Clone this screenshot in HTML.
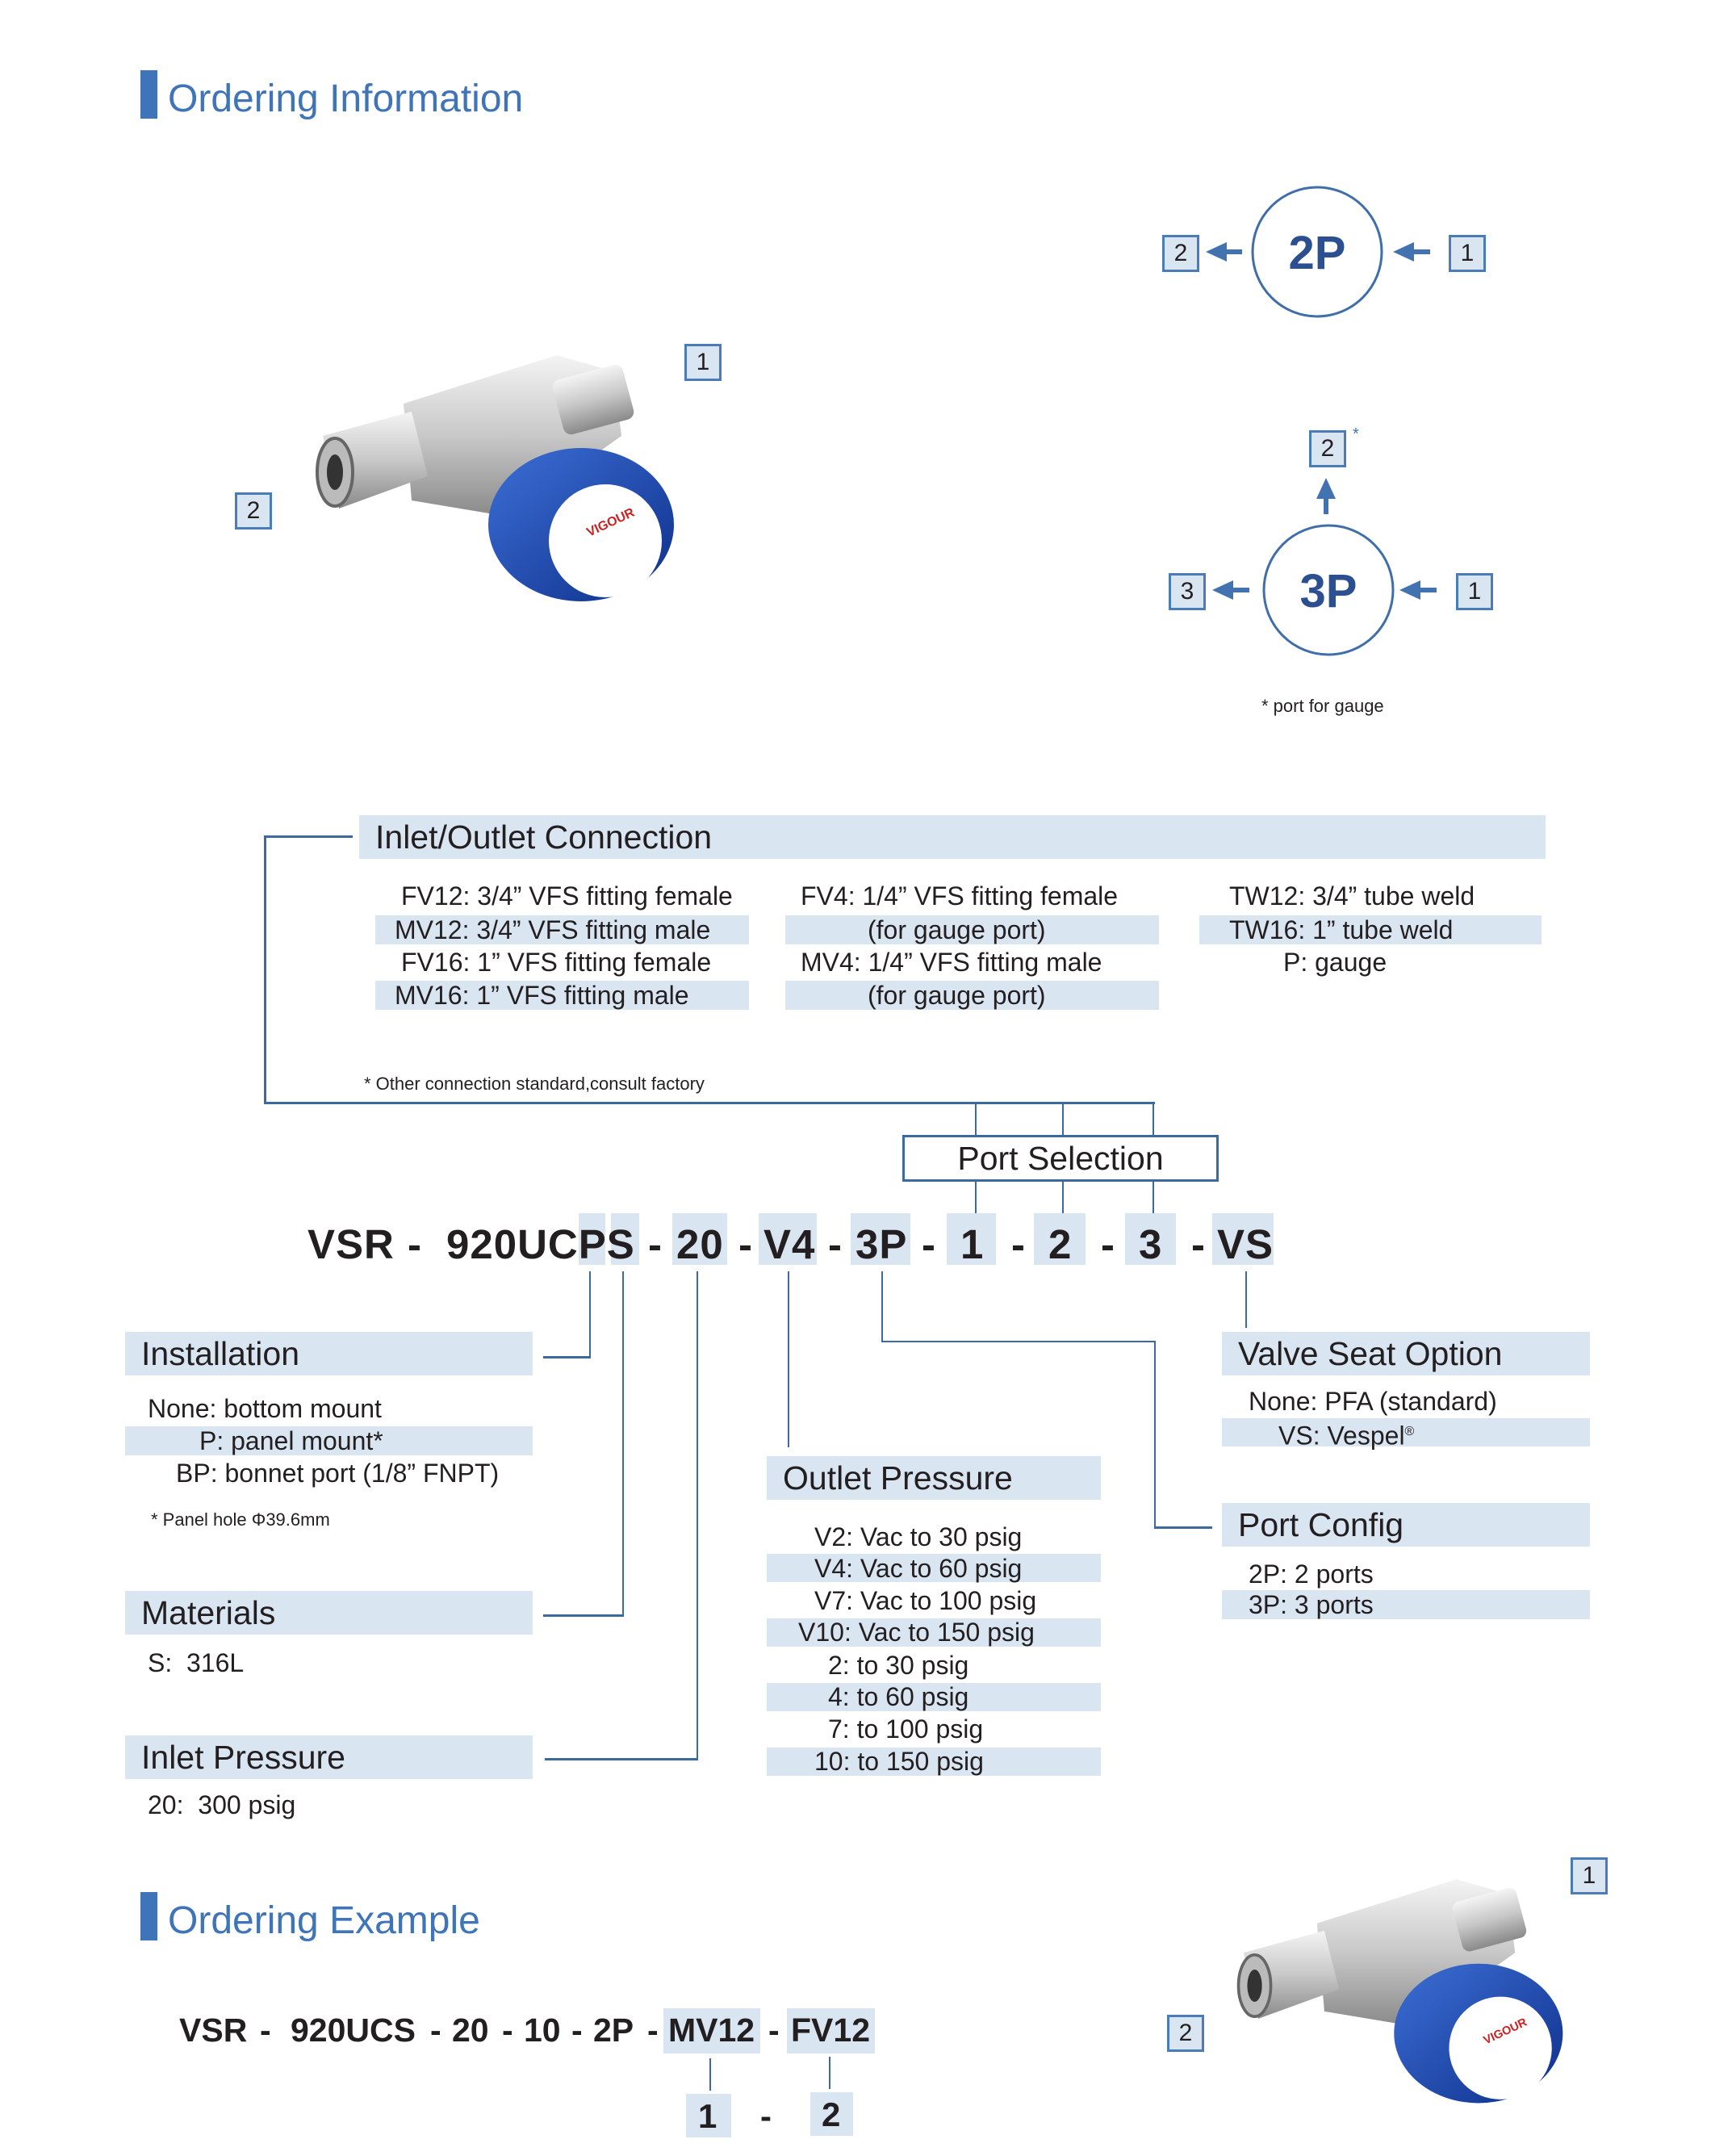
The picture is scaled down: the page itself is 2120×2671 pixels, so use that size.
<!DOCTYPE html>
<html><head><meta charset="utf-8"><style>
body{margin:0;background:#fff;}
#p{position:relative;width:2120px;height:2671px;overflow:hidden;font-family:"Liberation Sans",Arial,sans-serif;color:#231f20;}
.a{position:absolute;white-space:nowrap;}
.bar{position:absolute;background:#dae5f2;}
.hd{position:absolute;background:#dae5f2;font-size:41px;line-height:54px;padding-left:20px;box-sizing:border-box;color:#231f20;}
.it{position:absolute;font-size:32px;line-height:36px;white-space:nowrap;}
.ln{position:absolute;background:#3b6aa0;}
.bx{position:absolute;border:3px solid #4a7db8;background:#dae5f2;box-sizing:border-box;font-size:30px;text-align:center;color:#231f20;}
.cd{position:absolute;font-size:51px;font-weight:bold;line-height:64px;white-space:nowrap;letter-spacing:1px;}
.ce{position:absolute;font-size:41px;font-weight:bold;line-height:64px;white-space:nowrap;top:2483px;}
.title{position:absolute;font-size:48px;color:#3f74b8;white-space:nowrap;}
.tb{position:absolute;background:#3f74b8;width:21px;}
</style></head><body><div id="p">

<div class="tb" style="left:174px;top:87px;height:60px"></div>
<div class="title" style="left:208px;top:95px">Ordering Information</div>

<svg class="a" style="left:0;top:0" width="2120" height="950">
<g fill="none" stroke="#3f6ea8" stroke-width="3">
<ellipse cx="1632" cy="312" rx="80" ry="80"/>
<ellipse cx="1646" cy="731" rx="80" ry="80"/>
</g>
<g fill="#4273b0" stroke="#4273b0" stroke-width="6">
<line x1="1539" y1="312" x2="1510" y2="312"/><polygon points="1494,312 1520,300 1520,324" stroke-width="0"/>
<line x1="1772" y1="312" x2="1742" y2="312"/><polygon points="1726,312 1752,300 1752,324" stroke-width="0"/>
<line x1="1548" y1="731" x2="1518" y2="731"/><polygon points="1502,731 1528,719 1528,743" stroke-width="0"/>
<line x1="1780" y1="731" x2="1750" y2="731"/><polygon points="1734,731 1760,719 1760,743" stroke-width="0"/>
<line x1="1643" y1="637" x2="1643" y2="610"/><polygon points="1643,592 1631,618 1655,618" stroke-width="0"/>
</g>
<text x="1632" y="333" font-family="Liberation Sans" font-weight="bold" font-size="58" fill="#2c4f91" text-anchor="middle">2P</text>
<text x="1646" y="752" font-family="Liberation Sans" font-weight="bold" font-size="58" fill="#2c4f91" text-anchor="middle">3P</text>
<text x="1676" y="544" font-family="Liberation Sans" font-size="20" fill="#4273b0">*</text>
<text x="1563" y="882" font-family="Liberation Sans" font-size="22" fill="#231f20">* port for gauge</text>
</svg>
<div class="bx" style="left:1440px;top:291px;width:46px;height:46px;line-height:40px">2</div>
<div class="bx" style="left:1795px;top:291px;width:46px;height:46px;line-height:40px">1</div>
<div class="bx" style="left:1622px;top:533px;width:46px;height:46px;line-height:40px">2</div>
<div class="bx" style="left:1448px;top:710px;width:46px;height:46px;line-height:40px">3</div>
<div class="bx" style="left:1804px;top:710px;width:46px;height:46px;line-height:40px">1</div>

<svg class="a" style="left:390px;top:420px" width="480" height="330" viewBox="0 0 480 330">
<defs><linearGradient id="sv" x1="0" y1="0" x2="0" y2="1"><stop offset="0" stop-color="#f4f4f4"/><stop offset="0.5" stop-color="#c8c8c8"/><stop offset="1" stop-color="#8a8a8a"/></linearGradient>
<linearGradient id="bl" x1="0" y1="0" x2="1" y2="1"><stop offset="0" stop-color="#3d6fd6"/><stop offset="1" stop-color="#0d2f8a"/></linearGradient></defs>
<path d="M110 80 L300 20 L370 40 L380 120 L240 220 L120 200 Z" fill="url(#sv)"/>
<rect x="300" y="40" width="90" height="70" rx="10" fill="url(#sv)" transform="rotate(-15 345 75)"/>
<path d="M10 120 L120 90 L140 170 L30 210 Z" fill="url(#sv)"/>
<ellipse cx="25" cy="165" rx="22" ry="42" fill="#bbb" stroke="#666" stroke-width="4"/>
<ellipse cx="25" cy="165" rx="10" ry="22" fill="#333"/>
<ellipse cx="330" cy="230" rx="115" ry="95" fill="url(#bl)"/>
<ellipse cx="360" cy="250" rx="70" ry="70" fill="#fff"/>
<text x="340" y="245" font-family="Liberation Sans" font-size="16" font-weight="bold" fill="#c22" transform="rotate(-25 340 245)">VIGOUR</text>
</svg>
<div class="bx" style="left:848px;top:426px;width:46px;height:46px;line-height:40px">1</div>
<div class="bx" style="left:291px;top:610px;width:46px;height:46px;line-height:40px">2</div>

<div class="hd" style="left:445px;top:1010px;width:1470px;height:54px">Inlet/Outlet Connection</div>
<div class="bar" style="left:465px;top:1134px;width:463px;height:36px"></div>
<div class="bar" style="left:465px;top:1215px;width:463px;height:36px"></div>
<div class="bar" style="left:973px;top:1134px;width:463px;height:36px"></div>
<div class="bar" style="left:973px;top:1215px;width:463px;height:36px"></div>
<div class="bar" style="left:1486px;top:1134px;width:424px;height:36px"></div>
<div class="it" style="left:497px;top:1092px">FV12: 3/4” VFS fitting female</div>
<div class="it" style="left:489px;top:1134px">MV12: 3/4” VFS fitting male</div>
<div class="it" style="left:497px;top:1174px">FV16: 1” VFS fitting female</div>
<div class="it" style="left:489px;top:1215px">MV16: 1” VFS fitting male</div>
<div class="it" style="left:992px;top:1092px">FV4: 1/4” VFS fitting female</div>
<div class="it" style="left:1075px;top:1134px">(for gauge port)</div>
<div class="it" style="left:992px;top:1174px">MV4: 1/4” VFS fitting male</div>
<div class="it" style="left:1075px;top:1215px">(for gauge port)</div>
<div class="it" style="left:1523px;top:1092px">TW12: 3/4” tube weld</div>
<div class="it" style="left:1523px;top:1134px">TW16: 1” tube weld</div>
<div class="it" style="left:1590px;top:1174px">P: gauge</div>
<div class="a" style="left:451px;top:1330px;font-size:22px">* Other connection standard,consult factory</div>

<div class="ln" style="left:327px;top:1035px;width:110px;height:3px"></div>
<div class="ln" style="left:327px;top:1035px;width:3px;height:333px"></div>
<div class="ln" style="left:327px;top:1365px;width:1104px;height:3px"></div>
<div class="ln" style="left:1208px;top:1365px;width:2px;height:42px"></div>
<div class="ln" style="left:1316px;top:1365px;width:2px;height:42px"></div>
<div class="ln" style="left:1428px;top:1365px;width:2px;height:42px"></div>
<div class="a" style="left:1118px;top:1406px;width:392px;height:58px;border:3px solid #3b6aa0;box-sizing:border-box;font-size:41px;line-height:52px;text-align:center">Port Selection</div>
<div class="ln" style="left:1208px;top:1463px;width:2px;height:42px"></div>
<div class="ln" style="left:1316px;top:1463px;width:2px;height:42px"></div>
<div class="ln" style="left:1428px;top:1463px;width:2px;height:42px"></div>

<div class="bar" style="left:717px;top:1503px;width:33px;height:64px"></div>
<div class="bar" style="left:757px;top:1503px;width:35px;height:64px"></div>
<div class="bar" style="left:833px;top:1503px;width:68px;height:64px"></div>
<div class="bar" style="left:940px;top:1503px;width:72px;height:64px"></div>
<div class="bar" style="left:1054px;top:1503px;width:74px;height:64px"></div>
<div class="bar" style="left:1173px;top:1503px;width:61px;height:64px"></div>
<div class="bar" style="left:1281px;top:1503px;width:64px;height:64px"></div>
<div class="bar" style="left:1394px;top:1503px;width:63px;height:64px"></div>
<div class="bar" style="left:1502px;top:1503px;width:76px;height:64px"></div>
<div class="cd" style="left:381px;top:1510px">VSR</div>
<div class="cd" style="left:505px;top:1510px">-</div>
<div class="cd" style="left:553px;top:1510px">920UCPS</div>
<div class="cd" style="left:803px;top:1510px">-</div>
<div class="cd" style="left:838px;top:1510px">20</div>
<div class="cd" style="left:915px;top:1510px">-</div>
<div class="cd" style="left:946px;top:1510px">V4</div>
<div class="cd" style="left:1026px;top:1510px">-</div>
<div class="cd" style="left:1060px;top:1510px">3P</div>
<div class="cd" style="left:1142px;top:1510px">-</div>
<div class="cd" style="left:1190px;top:1510px">1</div>
<div class="cd" style="left:1253px;top:1510px">-</div>
<div class="cd" style="left:1299px;top:1510px">2</div>
<div class="cd" style="left:1364px;top:1510px">-</div>
<div class="cd" style="left:1411px;top:1510px">3</div>
<div class="cd" style="left:1476px;top:1510px">-</div>
<div class="cd" style="left:1508px;top:1510px">VS</div>

<div class="ln" style="left:730px;top:1575px;width:2px;height:107px"></div>
<div class="ln" style="left:673px;top:1680px;width:59px;height:3px"></div>
<div class="ln" style="left:771px;top:1575px;width:2px;height:427px"></div>
<div class="ln" style="left:673px;top:2000px;width:100px;height:3px"></div>
<div class="ln" style="left:863px;top:1575px;width:2px;height:605px"></div>
<div class="ln" style="left:675px;top:2178px;width:190px;height:3px"></div>
<div class="ln" style="left:976px;top:1575px;width:2px;height:218px"></div>
<div class="ln" style="left:1092px;top:1575px;width:2px;height:88px"></div>
<div class="ln" style="left:1092px;top:1661px;width:340px;height:2px"></div>
<div class="ln" style="left:1430px;top:1661px;width:2px;height:232px"></div>
<div class="ln" style="left:1430px;top:1891px;width:72px;height:3px"></div>
<div class="ln" style="left:1543px;top:1575px;width:2px;height:70px"></div>

<div class="hd" style="left:155px;top:1650px;width:505px;height:54px">Installation</div>
<div class="it" style="left:183px;top:1727px">None: bottom mount</div>
<div class="bar" style="left:155px;top:1767px;width:505px;height:36px"></div>
<div class="it" style="left:247px;top:1767px">P: panel mount*</div>
<div class="it" style="left:218px;top:1807px">BP: bonnet port (1/8” FNPT)</div>
<div class="a" style="left:187px;top:1870px;font-size:22px">* Panel hole Φ39.6mm</div>

<div class="hd" style="left:155px;top:1971px;width:505px;height:54px">Materials</div>
<div class="it" style="left:183px;top:2042px">S:&nbsp; 316L</div>

<div class="hd" style="left:155px;top:2150px;width:505px;height:54px">Inlet Pressure</div>
<div class="it" style="left:183px;top:2218px">20:&nbsp; 300 psig</div>

<div class="hd" style="left:950px;top:1804px;width:414px;height:54px">Outlet Pressure</div>
<div class="bar" style="left:950px;top:1925px;width:414px;height:35px"></div>
<div class="bar" style="left:950px;top:2005px;width:414px;height:35px"></div>
<div class="bar" style="left:950px;top:2085px;width:414px;height:35px"></div>
<div class="bar" style="left:950px;top:2165px;width:414px;height:35px"></div>
<div class="it" style="left:1009px;top:1886px">V2: Vac to 30 psig</div>
<div class="it" style="left:1009px;top:1925px">V4: Vac to 60 psig</div>
<div class="it" style="left:1009px;top:1965px">V7: Vac to 100 psig</div>
<div class="it" style="left:989px;top:2004px">V10: Vac to 150 psig</div>
<div class="it" style="left:1026px;top:2045px">2: to 30 psig</div>
<div class="it" style="left:1026px;top:2084px">4: to 60 psig</div>
<div class="it" style="left:1026px;top:2124px">7: to 100 psig</div>
<div class="it" style="left:1009px;top:2164px">10: to 150 psig</div>

<div class="hd" style="left:1514px;top:1650px;width:456px;height:54px">Valve Seat Option</div>
<div class="it" style="left:1547px;top:1718px">None: PFA (standard)</div>
<div class="bar" style="left:1514px;top:1757px;width:456px;height:35px"></div>
<div class="it" style="left:1584px;top:1756px">VS: Vespel<sup style="font-size:16px">®</sup></div>

<div class="hd" style="left:1514px;top:1862px;width:456px;height:54px">Port Config</div>
<div class="it" style="left:1547px;top:1932px">2P: 2 ports</div>
<div class="bar" style="left:1514px;top:1970px;width:456px;height:36px"></div>
<div class="it" style="left:1547px;top:1970px">3P: 3 ports</div>

<div class="tb" style="left:174px;top:2344px;height:60px"></div>
<div class="title" style="left:208px;top:2352px">Ordering Example</div>

<div class="bar" style="left:822px;top:2488px;width:120px;height:56px"></div>
<div class="bar" style="left:975px;top:2488px;width:109px;height:56px"></div>
<div class="ce" style="left:222px">VSR</div>
<div class="ce" style="left:322px">-</div>
<div class="ce" style="left:360px">920UCS</div>
<div class="ce" style="left:533px">-</div>
<div class="ce" style="left:560px">20</div>
<div class="ce" style="left:622px">-</div>
<div class="ce" style="left:649px">10</div>
<div class="ce" style="left:708px">-</div>
<div class="ce" style="left:735px">2P</div>
<div class="ce" style="left:802px">-</div>
<div class="ce" style="left:828px">MV12</div>
<div class="ce" style="left:952px">-</div>
<div class="ce" style="left:980px">FV12</div>
<div class="ln" style="left:879px;top:2550px;width:2px;height:40px"></div>
<div class="ln" style="left:1027px;top:2548px;width:2px;height:40px"></div>
<div class="bar" style="left:850px;top:2594px;width:56px;height:54px"></div>
<div class="bar" style="left:1004px;top:2592px;width:53px;height:54px"></div>
<div class="cd" style="left:865px;top:2590px;font-size:42px">1</div>
<div class="cd" style="left:942px;top:2590px;font-size:42px">-</div>
<div class="cd" style="left:1018px;top:2588px;font-size:42px">2</div>

<svg class="a" style="left:1525px;top:2310px" width="450" height="300" viewBox="0 0 480 330">
<path d="M110 80 L300 20 L370 40 L380 120 L240 220 L120 200 Z" fill="url(#sv)"/>
<rect x="300" y="40" width="90" height="70" rx="10" fill="url(#sv)" transform="rotate(-15 345 75)"/>
<path d="M10 120 L120 90 L140 170 L30 210 Z" fill="url(#sv)"/>
<ellipse cx="25" cy="165" rx="22" ry="42" fill="#bbb" stroke="#666" stroke-width="4"/>
<ellipse cx="25" cy="165" rx="10" ry="22" fill="#333"/>
<ellipse cx="330" cy="230" rx="115" ry="95" fill="url(#bl)"/>
<ellipse cx="360" cy="250" rx="70" ry="70" fill="#fff"/>
<text x="340" y="245" font-family="Liberation Sans" font-size="16" font-weight="bold" fill="#c22" transform="rotate(-25 340 245)">VIGOUR</text>
</svg>
<div class="bx" style="left:1946px;top:2301px;width:46px;height:46px;line-height:40px">1</div>
<div class="bx" style="left:1446px;top:2496px;width:46px;height:46px;line-height:40px">2</div>

</div></body></html>
